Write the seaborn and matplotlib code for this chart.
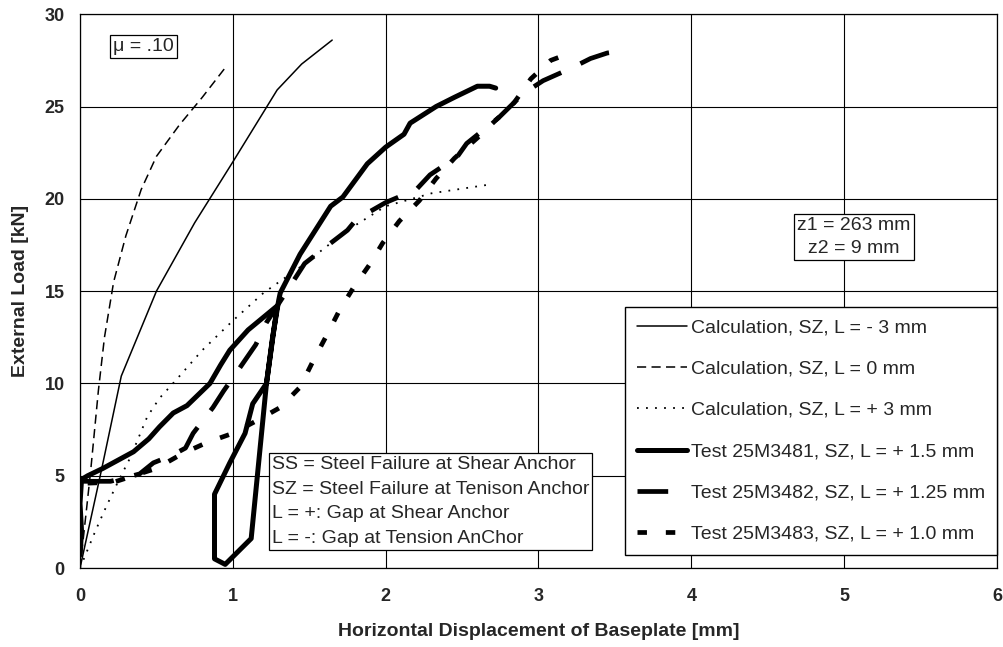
import matplotlib
matplotlib.use("Agg")
import matplotlib.pyplot as plt
import seaborn as sns

# --- values ---
calc_m3_x = [0, 0.14, 0.27, 0.5, 0.75, 1.0, 1.29, 1.45, 1.65]
calc_m3_y = [0, 5.3, 10.4, 15.0, 18.7, 22.0, 25.9, 27.3, 28.6]

calc_0_x = [0, 0.02, 0.044, 0.07, 0.12, 0.16, 0.22, 0.3, 0.4, 0.5, 0.65, 0.8, 0.95]
calc_0_y = [0, 1.5, 3.3, 5.3, 9.6, 12.5, 15.5, 18.0, 20.5, 22.3, 24.0, 25.5, 27.1]

calc_p3_x = [0, 0.05, 0.1, 0.17, 0.25, 0.33, 0.44, 0.52, 0.63, 0.8, 1.0, 1.2,
             1.44, 1.75, 2.0, 2.3, 2.7]
calc_p3_y = [0, 1.0, 2.0, 3.3, 4.7, 6.0, 8.2, 9.2, 10.2, 11.8, 13.4, 14.9,
             16.3, 18.3, 19.6, 20.3, 20.8]

t81_x = [0.0, 0.01, 0.0, 0.01, 0.05, 0.15, 0.35, 0.45, 0.52, 0.61, 0.7, 0.85,
         0.92, 0.98, 1.1, 1.29, 1.22, 1.12, 0.95, 0.88, 0.88, 0.98, 1.08, 1.13,
         1.22, 1.26, 1.3, 1.31, 1.44, 1.64, 1.72, 1.88, 2.0, 2.12, 2.16, 2.33,
         2.45, 2.6, 2.68, 2.72]
t81_y = [0.7, 2.0, 3.5, 4.8, 5.0, 5.4, 6.3, 7.0, 7.65, 8.4, 8.8, 10.0,
         11.0, 11.8, 12.9, 14.2, 10.0, 1.6, 0.2, 0.5, 4.0, 5.7, 7.3, 8.9,
         10.0, 12.5, 14.5, 14.9, 17.0, 19.6, 20.1, 21.9, 22.8, 23.5, 24.1, 25.0,
         25.5, 26.1, 26.1, 26.0]

t82_x = [0.02, 0.2, 0.3, 0.39, 0.48, 0.6, 0.69, 0.74, 0.87, 0.94, 1.05, 1.15,
         1.22, 1.29, 1.4, 1.47, 1.64, 1.75, 1.81, 2.0, 2.2, 2.29, 2.47, 2.53,
         2.74, 2.9, 3.03, 3.22, 3.34, 3.45, 3.53]
t82_y = [4.7, 4.7, 4.9, 5.1, 5.7, 6.1, 6.5, 7.3, 8.7, 9.6, 10.9, 12.1,
         13.3, 14.2, 15.6, 16.5, 17.6, 18.3, 18.9, 19.8, 20.5, 21.3, 22.3, 23.0,
         24.4, 25.7, 26.4, 27.1, 27.6, 27.9, 28.0]

t83_x = [0.05, 0.22, 0.35, 0.5, 0.67, 0.83, 1.0, 1.16, 1.31, 1.44, 1.53, 1.62,
         1.7, 1.79, 1.9, 1.98, 2.09, 2.22, 2.33, 2.45, 2.6, 2.7, 2.84, 2.95,
         3.08, 3.24]
t83_y = [4.6, 4.65, 5.0, 5.4, 6.2, 6.8, 7.3, 8.0, 8.7, 9.8, 11.3, 12.7,
         14.0, 15.2, 16.5, 17.6, 18.8, 19.9, 21.1, 22.2, 23.3, 24.1, 25.2, 26.5,
         27.5, 28.0]

labels = ["Calculation, SZ, L = - 3 mm",
          "Calculation, SZ, L = 0 mm",
          "Calculation, SZ, L = + 3 mm",
          "Test 25M3481, SZ, L = + 1.5 mm",
          "Test 25M3482, SZ, L = + 1.25 mm",
          "Test 25M3483, SZ, L = + 1.0 mm"]

sns.set_style("white")
plt.rcParams['font.family'] = ['Liberation Sans', 'DejaVu Sans']

fig = plt.figure(figsize=(10.04, 6.47), dpi=100)
ax = fig.add_subplot(111)
fig.subplots_adjust(left=0.0797, right=0.993, bottom=0.122, top=0.978)

series = [
    (calc_m3_x, calc_m3_y, 1.1, "-"),
    (calc_0_x, calc_0_y, 1.1, (0, (6, 3.5))),
    (calc_p3_x, calc_p3_y, 1.3, (0, (1, 4))),
    (t81_x, t81_y, 3.6, "-"),
    (t82_x, t82_y, 3.4, (0, (6.5, 4.5))),
    (t83_x, t83_y, 3.4, (0, (2, 4))),
]
for (xs, ys, lw, ls), lab in zip(series, labels):
    sns.lineplot(x=xs, y=ys, sort=False, estimator=None, color="black",
                 linewidth=lw, linestyle=ls, label=lab, ax=ax)

ax.set_xlim(0, 6)
ax.set_ylim(0, 30)
ax.set_xticks(range(0, 7))
ax.set_yticks(range(0, 31, 5))
ax.grid(True, color="black", linewidth=0.8)
ax.set_axisbelow(True)
for sp in ax.spines.values():
    sp.set_color("black")
    sp.set_linewidth(0.9)
ax.tick_params(direction="out", length=5, width=0.9, color="black",
               labelsize=13, pad=9)
ax.tick_params(axis="y", pad=6)
for t in ax.get_xticklabels() + ax.get_yticklabels():
    t.set_fontweight("bold")

ax.set_xlabel("Horizontal Displacement of Baseplate [mm]", fontsize=14,
              fontweight="bold", labelpad=13)
ax.set_ylabel("External Load [kN]", fontsize=14, fontweight="bold", labelpad=11)

leg = ax.legend(loc="lower right", bbox_to_anchor=(1.0, 0.0235),
                borderaxespad=0, fontsize=14, frameon=True, fancybox=False,
                framealpha=1, edgecolor="black", labelspacing=1.22,
                handlelength=2.55, handletextpad=0.2, borderpad=0.62)
leg.get_frame().set_linewidth(1.0)

box = dict(boxstyle="square,pad=0.15", facecolor="white", edgecolor="black",
           linewidth=0.9)
ax.text(0.069, 0.942, "\u03bc = .10", transform=ax.transAxes, fontsize=14,
        ha="center", va="center", bbox=box)
ax.text(0.844, 0.598, "z1 = 263 mm\nz2 = 9 mm", transform=ax.transAxes,
        fontsize=14, ha="center", va="center", linespacing=1.48, bbox=box)
ax.text(0.2094, 0.202,
        "SS = Steel Failure at Shear Anchor\n"
        "SZ = Steel Failure at Tenison Anchor\n"
        "L = +: Gap at Shear Anchor\n"
        "L = -: Gap at Tension AnChor",
        transform=ax.transAxes, fontsize=14, ha="left", va="top",
        linespacing=1.58, bbox=box)

fig.savefig("out.png", dpi=100)
